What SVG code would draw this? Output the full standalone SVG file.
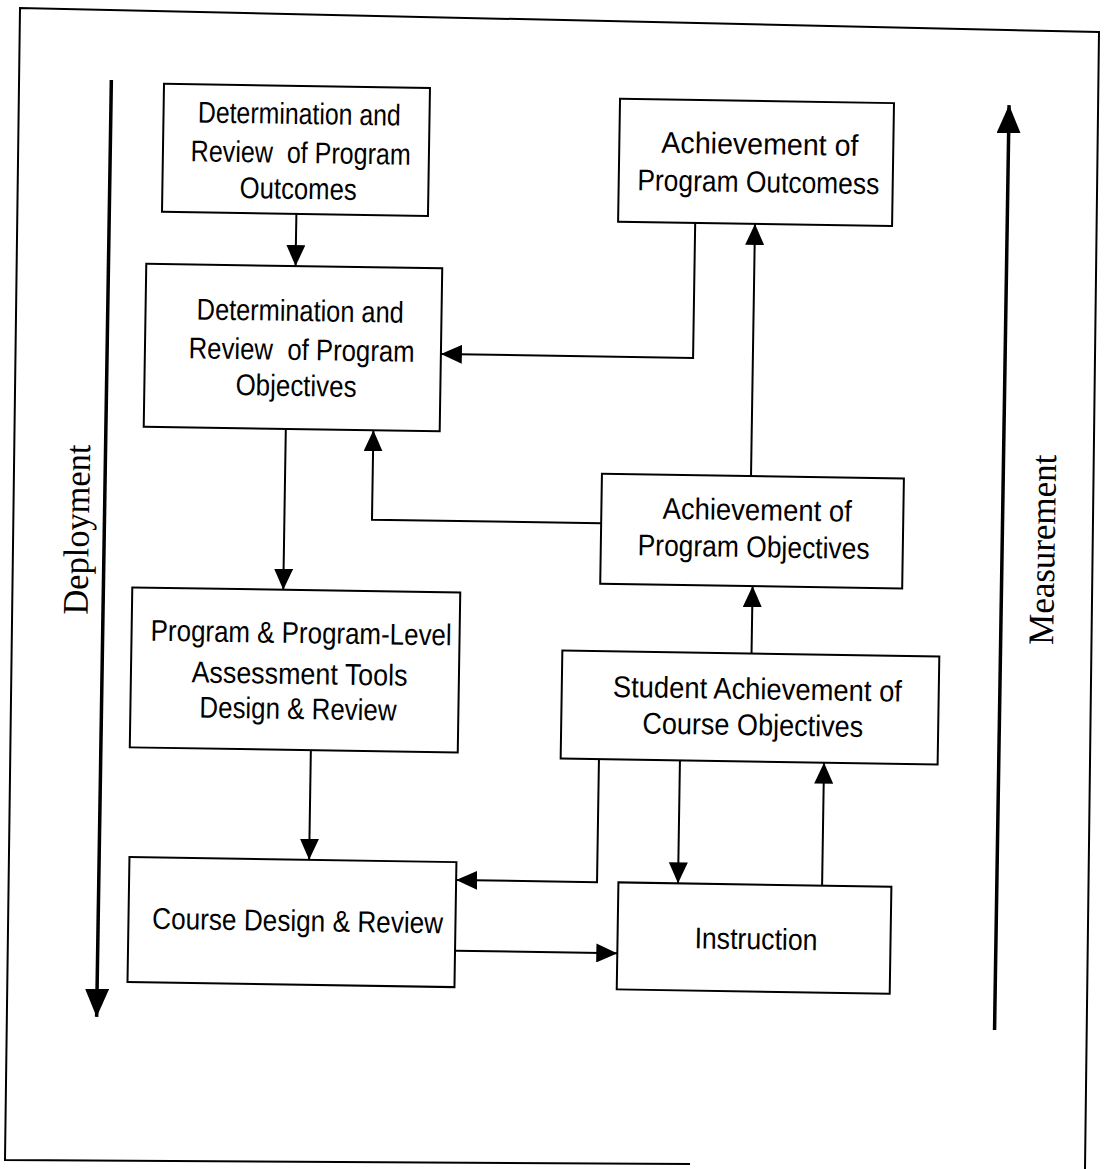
<svg xmlns="http://www.w3.org/2000/svg" width="1105" height="1169" viewBox="0 0 1105 1169">
  <style>
    .box { fill: #ffffff; stroke: #000000; stroke-width: 2; }
    .lbl { font-family: "Liberation Sans", Arial, sans-serif; font-size: 30px; fill: #000000; text-anchor: middle; }
    .axis-lbl { font-family: "Liberation Serif", "Times New Roman", serif; font-size: 36px; fill: #000000; text-anchor: middle; }
    .conn { fill: none; stroke: #000000; stroke-width: 2; }
    .axis { fill: none; stroke: #000000; stroke-width: 3.5; }
  </style>
  <defs>
    <marker id="arr" viewBox="0 0 21 19" refX="21" refY="9.5" markerWidth="21" markerHeight="19" orient="auto" markerUnits="userSpaceOnUse">
      <path d="M0,0 L21,9.5 L0,19 Z" fill="#000000"/>
    </marker>
    <marker id="axisArr" viewBox="0 0 28 24" refX="28" refY="12" markerWidth="28" markerHeight="24" orient="auto" markerUnits="userSpaceOnUse">
      <path d="M0,0 L28,12 L0,24 Z" fill="#000000"/>
    </marker>
  </defs>

  <rect width="1105" height="1169" fill="#ffffff"/>

  <!-- outer frame -->
  <path d="M690,1164 L5,1160 L20,8 L1099,32 L1085,1169" fill="none" stroke="#000000" stroke-width="2"/>

  <g transform="rotate(0.9 552 584)">
    <!-- side axes -->
    <g id="axis-deployment">
      <path class="axis" d="M103.5,87 V1024" marker-end="url(#axisArr)"/>
      <text class="axis-lbl" transform="translate(88 537) rotate(-90)" textLength="170" lengthAdjust="spacingAndGlyphs">Deployment</text>
    </g>
    <g id="axis-measurement">
      <path class="axis" d="M1001.5,1023 V98" marker-end="url(#axisArr)"/>
      <text class="axis-lbl" transform="translate(1054 542) rotate(-90)" textLength="190" lengthAdjust="spacingAndGlyphs">Measurement</text>
    </g>

    <!-- connectors -->
    <g id="connectors">
      <path class="conn" d="M290.6,218 V270.1" marker-end="url(#arr)"/>
      <path class="conn" d="M283.4,433.1 V594" marker-end="url(#arr)"/>
      <path class="conn" d="M313.5,754 V863.6" marker-end="url(#arr)"/>
      <path class="conn" d="M689.5,220.8 V355.8 H437.3" marker-end="url(#arr)"/>
      <path class="conn" d="M749.3,472.9 V220.8" marker-end="url(#arr)"/>
      <path class="conn" d="M600.2,522.5 H371 V433.1" marker-end="url(#arr)"/>
      <path class="conn" d="M752.6,650.4 V582.9" marker-end="url(#arr)"/>
      <path class="conn" d="M601.7,758.4 V881.4 H460.8" marker-end="url(#arr)"/>
      <path class="conn" d="M682.7,758.4 V881.3" marker-end="url(#arr)"/>
      <path class="conn" d="M826.8,881.3 V758.4" marker-end="url(#arr)"/>
      <path class="conn" d="M460.8,952.2 H623.1" marker-end="url(#arr)"/>
    </g>

    <!-- nodes -->
    <g id="program-outcomes">
      <rect class="box" x="156.2" y="90" width="266" height="128"/>
      <text class="lbl" x="292" y="128" textLength="203" lengthAdjust="spacingAndGlyphs">Determination and</text>
      <text class="lbl" x="294" y="167" textLength="220" lengthAdjust="spacingAndGlyphs" style="white-space:pre">Review  of Program</text>
      <text class="lbl" x="292" y="203" textLength="117" lengthAdjust="spacingAndGlyphs">Outcomes</text>
    </g>

    <g id="program-objectives">
      <rect class="box" x="141.3" y="270.1" width="296" height="163"/>
      <text class="lbl" x="296" y="325" textLength="207" lengthAdjust="spacingAndGlyphs">Determination and</text>
      <text class="lbl" x="298" y="364" textLength="226" lengthAdjust="spacingAndGlyphs" style="white-space:pre">Review  of Program</text>
      <text class="lbl" x="293" y="400" textLength="121" lengthAdjust="spacingAndGlyphs">Objectives</text>
    </g>

    <g id="assessment-tools">
      <rect class="box" x="132.4" y="594" width="328" height="160"/>
      <text class="lbl" x="302" y="647" textLength="301" lengthAdjust="spacingAndGlyphs">Program &amp; Program-Level</text>
      <text class="lbl" x="301" y="688" textLength="216" lengthAdjust="spacingAndGlyphs">Assessment Tools</text>
      <text class="lbl" x="300" y="723" textLength="197" lengthAdjust="spacingAndGlyphs">Design &amp; Review</text>
    </g>

    <g id="course-design">
      <rect class="box" x="133.8" y="863.6" width="327" height="125"/>
      <text class="lbl" x="303" y="935" textLength="291" lengthAdjust="spacingAndGlyphs">Course Design &amp; Review</text>
    </g>

    <g id="achievement-outcomes">
      <rect class="box" x="612.4" y="97.8" width="274" height="123"/>
      <text class="lbl" x="753" y="151" textLength="197" lengthAdjust="spacingAndGlyphs">Achievement of</text>
      <text class="lbl" x="752" y="189" textLength="242" lengthAdjust="spacingAndGlyphs">Program Outcomess</text>
    </g>

    <g id="achievement-objectives">
      <rect class="box" x="600.2" y="472.9" width="302" height="110"/>
      <text class="lbl" x="756" y="517" textLength="189" lengthAdjust="spacingAndGlyphs">Achievement of</text>
      <text class="lbl" x="753" y="554" textLength="232" lengthAdjust="spacingAndGlyphs">Program Objectives</text>
    </g>

    <g id="student-achievement">
      <rect class="box" x="563.4" y="650.4" width="377" height="108"/>
      <text class="lbl" x="759" y="696" textLength="289" lengthAdjust="spacingAndGlyphs">Student Achievement of</text>
      <text class="lbl" x="755" y="732" textLength="221" lengthAdjust="spacingAndGlyphs">Course Objectives</text>
    </g>

    <g id="instruction">
      <rect class="box" x="623.1" y="881.3" width="273" height="107"/>
      <text class="lbl" x="761.6" y="946" textLength="123" lengthAdjust="spacingAndGlyphs">Instruction</text>
    </g>
  </g>
</svg>
